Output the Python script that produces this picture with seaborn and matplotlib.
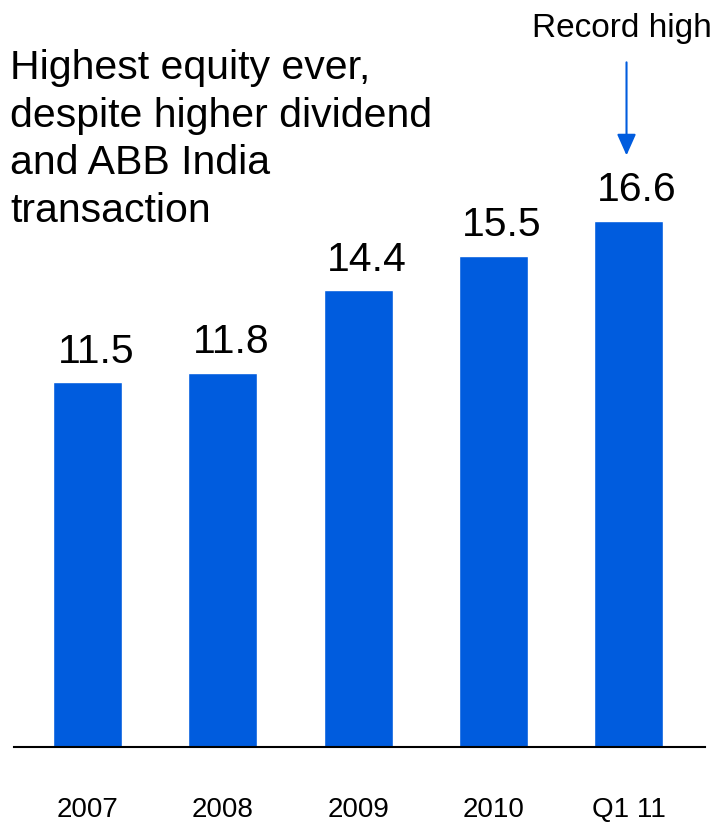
import matplotlib
matplotlib.use('Agg')
import matplotlib.pyplot as plt
import matplotlib.transforms as mtransforms
import seaborn as sns

# data
periods = ['2007', '2008', '2009', '2010', 'Q1 11']
equity = [11.5, 11.8, 14.4, 15.5, 16.6]
value_labels = ['11.5', '11.8', '14.4', '15.5', '16.6']

bar_color = '#005CDE'

sns.set_style('white')
plt.rcParams['font.family'] = ['Liberation Sans', 'DejaVu Sans']
plt.rcParams['text.color'] = 'black'
plt.rcParams['xtick.color'] = 'black'

fig = plt.figure(figsize=(7.19, 8.23), dpi=100)
ax = fig.add_axes([14 / 719, 76 / 823, 691 / 719, 747 / 823])

sns.barplot(x=periods, y=equity, color=bar_color, saturation=1, width=0.51, ax=ax)

ax.set_xlim(-0.545, 4.565)
ax.set_ylim(0, 23.56)

# value labels above bars (sit a little right of centre in the original)
for i, (v, lab) in enumerate(zip(equity, value_labels)):
    ax.annotate(lab, xy=(i, v), xytext=(6, 14), textcoords='offset points',
                ha='center', va='baseline', fontsize=29.5, color='black')

# "Record high" callout with arrow over last bar
last = len(equity) - 1
tip = mtransforms.offset_copy(ax.transData, fig=fig, x=-1.5, y=47, units='points')
ax.annotate('', xy=(last, equity[last]), xycoords=tip,
            xytext=(0, 67), textcoords='offset points',
            arrowprops=dict(arrowstyle='-|>,head_length=1.3,head_width=0.58',
                            color=bar_color, lw=1.5, shrinkA=0, shrinkB=0))
ax.annotate('Record high', xy=(last, equity[last]), xytext=(-5, 132),
            textcoords='offset points', ha='center', va='baseline', fontsize=24)

# note text top-left
fig.text(10 / 719, 1 - 222 / 823, 'Highest equity ever,\ndespite higher dividend\nand ABB India\ntransaction',
         ha='left', va='baseline', fontsize=29.5, linespacing=1.32)

# axes styling
for s in ['top', 'right', 'left']:
    ax.spines[s].set_visible(False)
ax.spines['bottom'].set_color('black')
ax.spines['bottom'].set_linewidth(1.5)
ax.set_yticks([])
ax.tick_params(axis='x', length=0, pad=36, labelsize=20)
ax.set_xlabel('')
ax.set_ylabel('')

plt.savefig('out.png', dpi=100)
